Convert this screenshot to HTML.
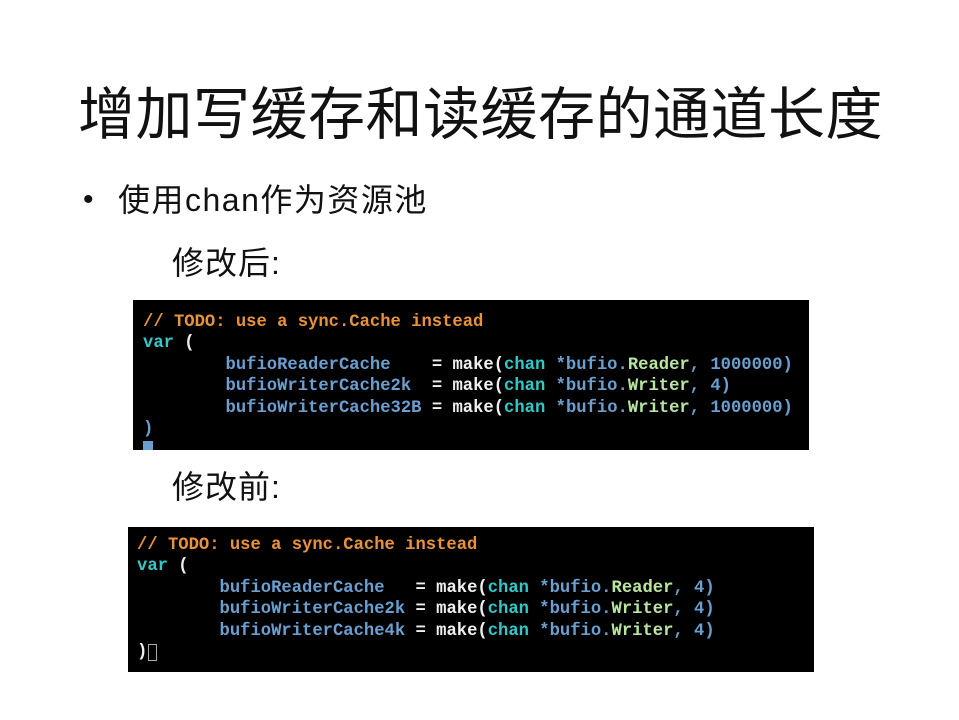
<!DOCTYPE html>
<html><head><meta charset="utf-8"><style>
body{margin:0;width:959px;height:720px;background:#fff;position:relative;overflow:hidden;font-family:"Liberation Sans","Noto Sans CJK SC",sans-serif;color:#111}
.a{position:absolute;white-space:nowrap}
.code{position:absolute;background:#000;font-family:"Liberation Mono",monospace;font-size:17.2px;font-weight:bold;line-height:21.4px;white-space:pre;color:#eee;overflow:hidden;box-sizing:border-box}
.c{color:#e8923c}.k{color:#33c8c8}.i{color:#6a9fcf}.m{color:#f0f0f0}.t{color:#b8e6a0}.n{color:#7aa6d6}
</style></head><body>
<div class="a" style="left:78px;top:80px;font-size:57px;letter-spacing:0.5px;line-height:70px">增加写缓存和读缓存的通道长度</div>
<div class="a" style="left:83px;top:180px;font-size:30px;line-height:40px">•</div>
<div class="a" style="left:118px;top:180px;font-size:32px;letter-spacing:1.5px;line-height:40px">使用chan作为资源池</div>
<div class="a" style="left:172px;top:243px;font-size:32px;letter-spacing:1px;line-height:40px">修改后:</div>
<div class="a" style="left:172px;top:467px;font-size:32px;letter-spacing:1px;line-height:40px">修改前:</div>
<div class="code" style="left:133px;top:300px;width:676px;height:150px;padding:12px 0 0 10px"><span class="c">// TODO: use a sync.Cache instead</span>
<span class="k">var</span> (
        <span class="i">bufioReaderCache</span>    <span class="m">= make(</span><span class="k">chan</span> <span class="i">*bufio.</span><span class="t">Reader</span><span class="i">, 1000000)</span>
        <span class="i">bufioWriterCache2k</span>  <span class="m">= make(</span><span class="k">chan</span> <span class="i">*bufio.</span><span class="t">Writer</span><span class="i">, 4)</span>
        <span class="i">bufioWriterCache32B</span> <span class="m">= make(</span><span class="k">chan</span> <span class="i">*bufio.</span><span class="t">Writer</span><span class="i">, 1000000)</span>
<span class="i">)</span>
<span style="background:#6a9fcf"> </span></div>
<div class="code" style="left:128px;top:527px;width:686px;height:145px;padding:8px 0 0 9px"><span class="c">// TODO: use a sync.Cache instead</span>
<span class="k">var</span> (
        <span class="i">bufioReaderCache</span>   <span class="m">= make(</span><span class="k">chan</span> <span class="i">*bufio.</span><span class="t">Reader</span><span class="i">, 4)</span>
        <span class="i">bufioWriterCache2k</span> <span class="m">= make(</span><span class="k">chan</span> <span class="i">*bufio.</span><span class="t">Writer</span><span class="i">, 4)</span>
        <span class="i">bufioWriterCache4k</span> <span class="m">= make(</span><span class="k">chan</span> <span class="i">*bufio.</span><span class="t">Writer</span><span class="i">, 4)</span>
<span class="m">)</span><span style="outline:1px solid #aaa;outline-offset:-2px"> </span></div>
</body></html>
